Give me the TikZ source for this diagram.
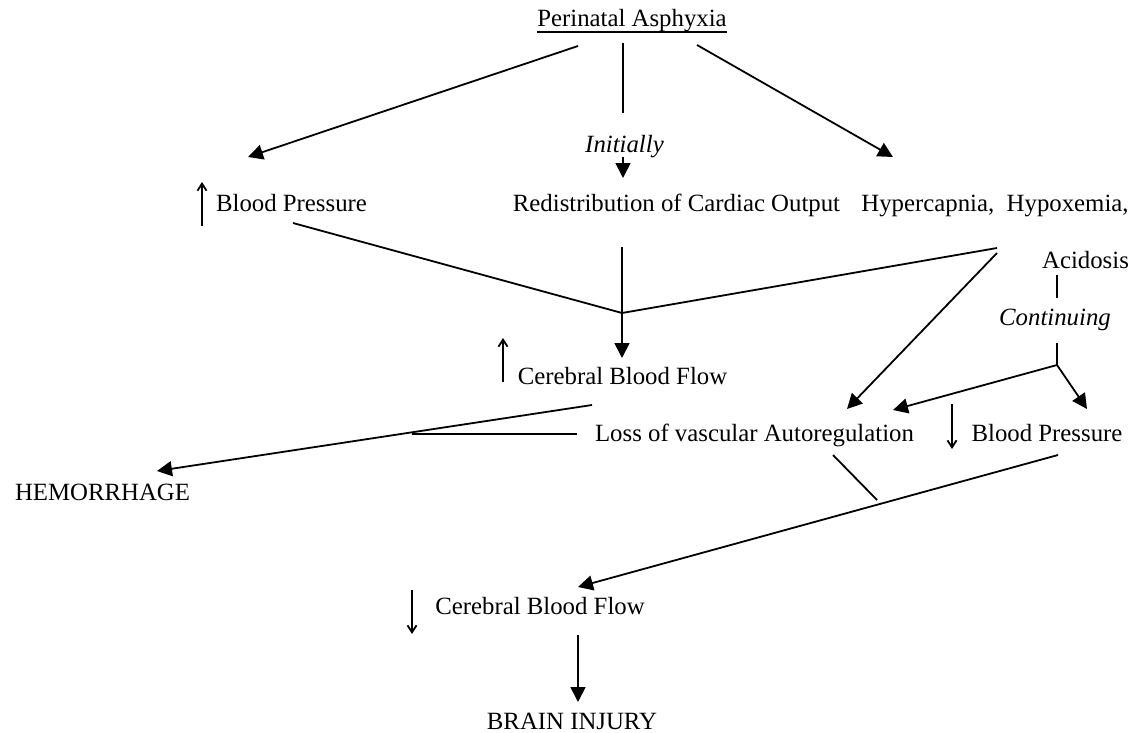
\documentclass[tikz,border=0pt]{standalone}
\usepackage{fontspec}
\setmainfont{Liberation Serif}
\usetikzlibrary{arrows.meta}

\begin{document}
\begin{tikzpicture}[x=0.5pt,y=-0.5pt,
    txt/.style={inner sep=0pt,anchor=base,font=\fontsize{12.4}{15}\selectfont},
    itx/.style={txt,font=\fontsize{12.4}{15}\selectfont\itshape},
    link/.style={line width=0.9pt},
    arrowbig/.style={link,-{Triangle[length=7.5pt,width=7.5pt]}},
    updown/.style={link,-{Straight Barb[length=3.5pt,width=4.5pt]}}]
  \useasboundingbox (0,0) rectangle (1135,733);

  % labels
  \node[txt] (pa) at (632,27) {Perinatal Asphyxia};
  \node[itx] (ini) at (624.5,153) {Initially};
  \node[txt] (bpu) at (291.5,212) {Blood Pressure};
  \node[txt] (rco) at (676.5,212) {Redistribution of Cardiac Output};
  \node[txt] (hh) at (995,212) {Hypercapnia,\ \ Hypoxemia,};
  \node[txt] (aci) at (1085.5,268) {Acidosis};
  \node[itx] (cont) at (1055,325) {Continuing};
  \node[txt] (cbfu) at (622.5,384) {Cerebral Blood Flow};
  \node[txt] (lva) at (754.5,441) {Loss of vascular Autoregulation};
  \node[txt] (bpd) at (1047,441) {Blood Pressure};
  \node[txt] (hem) at (102.5,500) {HEMORRHAGE};
  \node[txt] (cbfd) at (540,614) {Cerebral Blood Flow};
  \node[txt] (bi) at (572,729) {BRAIN INJURY};

  % underline of the title
  \draw[line width=0.6pt] ([yshift=-2.5pt]pa.base west) -- ([yshift=-2.5pt]pa.base east);

  % free ends of the connectors
  \coordinate (pa-l) at (578,46);
  \coordinate (pa-m) at (623,43);
  \coordinate (pa-mb) at (623,113);
  \coordinate (pa-r) at (697,45);
  \coordinate (bpu-in) at (248,157);
  \coordinate (hh-in) at (893,157);
  \coordinate (ini-a) at (623,157);
  \coordinate (rco-in) at (623,178);
  \coordinate (bpu-out) at (293,223);
  \coordinate (rco-out) at (622,247);
  \coordinate (join1) at (622,313);
  \coordinate (cbfu-in) at (622,358);
  \coordinate (hh-out1) at (997,248);
  \coordinate (hh-out2) at (997,253);
  \coordinate (lva-in1) at (847,409);
  \coordinate (aci-out) at (1057,275);
  \coordinate (cont-in) at (1057,298);
  \coordinate (cont-out) at (1057,343);
  \coordinate (join2) at (1057,365);
  \coordinate (lva-in2) at (893,410);
  \coordinate (bpd-in) at (1087,409);
  \coordinate (cbfu-out) at (592,405);
  \coordinate (hem-in) at (157,471);
  \coordinate (lva-l) at (577,434);
  \coordinate (hem-j) at (412,434);
  \coordinate (lva-out) at (833,455);
  \coordinate (lva-j) at (877,500);
  \coordinate (bpd-out) at (1058,455);
  \coordinate (cbfd-in) at (578,587);
  \coordinate (cbfd-out) at (578,635);
  \coordinate (bi-in) at (578,702);

  % from the title
  \draw[arrowbig] (pa-l) -- (bpu-in);
  \draw[link] (pa-m) -- (pa-mb);
  \draw[arrowbig] (ini-a) -- (rco-in);
  \draw[arrowbig] (pa-r) -- (hh-in);

  % into cerebral blood flow
  \draw[link] (bpu-out) -- (join1) -- (hh-out1);
  \draw[arrowbig] (rco-out) -- (cbfu-in);
  \draw[arrowbig] (hh-out2) -- (lva-in1);

  % continuing
  \draw[link] (aci-out) -- (cont-in);
  \draw[link] (cont-out) -- (join2);
  \draw[arrowbig] (join2) -- (lva-in2);
  \draw[arrowbig] (join2) -- (bpd-in);

  % hemorrhage
  \draw[arrowbig] (cbfu-out) -- (hem-in);
  \draw[link] (hem-j) -- (lva-l);

  % brain injury
  \draw[link] (lva-out) -- (lva-j);
  \draw[arrowbig] (bpd-out) -- (cbfd-in);
  \draw[arrowbig] (cbfd-out) -- (bi-in);

  % up and down marks
  \draw[updown] (202,226) -- (202,182);
  \draw[updown] (503,382) -- (503,338);
  \draw[updown] (952,404) -- (952,449);
  \draw[updown] (412,590) -- (412,634);
\end{tikzpicture}
\end{document}
